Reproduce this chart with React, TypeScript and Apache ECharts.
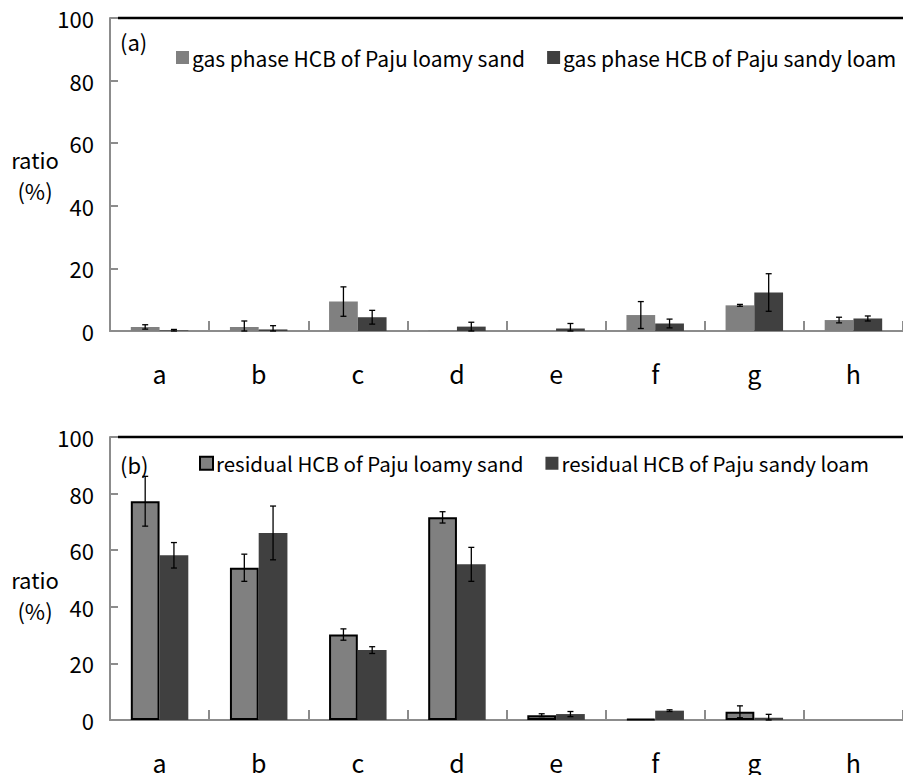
import React, { useEffect, useRef } from "react";
import * as echarts from "echarts";

const categories = ["a", "b", "c", "d", "e", "f", "g", "h"];
const yTicks = [0, 20, 40, 60, 80, 100];

const gasLoamyName = "gas phase HCB of Paju loamy sand";
const gasSandyName = "gas phase HCB of Paju sandy loam";
const resLoamyName = "residual HCB of Paju loamy sand";
const resSandyName = "residual HCB of Paju sandy loam";

const gasLoamy = [1.3, 1.3, 9.4, 0.2, 0, 5.1, 8.2, 3.5];
const gasLoamyErr = [0.7, 1.9, 4.7, 0, 0, 4.3, 0.3, 0.9];
const gasSandy = [0.2, 0.5, 4.4, 1.4, 0.8, 2.4, 12.3, 4.0];
const gasSandyErr = [0.3, 1.2, 2.2, 1.4, 1.6, 1.4, 6.0, 0.8];

const resLoamy = [77.3, 53.8, 30.2, 71.6, 1.7, 0.3, 2.9, 0];
const resLoamyErr = [8.8, 4.8, 2.0, 2.0, 0.5, 0, 2.1, 0];
const resSandy = [58.2, 66.1, 24.7, 55.0, 2.1, 3.3, 0.8, 0];
const resSandyErr = [4.5, 9.5, 1.2, 6.0, 0.9, 0.3, 1.2, 0];

const FONT = "'Noto Sans CJK KR', 'Noto Sans', sans-serif";
const LOAMY = "#808080";
const SANDY = "#404040";
const AXIS = "#8c8c8c";

function errSeries(grid: number, vals: number[], errs: number[], side: number) {
  return {
    type: "custom",
    xAxisIndex: grid,
    yAxisIndex: grid,
    z: 10,
    silent: true,
    data: vals.map((v, i) => [i, v, errs[i]]),
    renderItem: (params: any, api: any) => {
      const i = api.value(0);
      const v = api.value(1);
      const e = api.value(2);
      if (!e) return null;
      const band = api.size([1, 0])[0];
      const off = band * 0.145 * side;
      const top = api.coord([i, v + e]);
      const bot = api.coord([i, Math.max(v - e, 0)]);
      const x = top[0] + off;
      const cap = 3;
      const style = { stroke: "#000", lineWidth: 1.3 };
      return {
        type: "group",
        children: [
          { type: "line", shape: { x1: x, y1: top[1], x2: x, y2: bot[1] }, style },
          { type: "line", shape: { x1: x - cap, y1: top[1], x2: x + cap, y2: top[1] }, style },
          { type: "line", shape: { x1: x - cap, y1: bot[1], x2: x + cap, y2: bot[1] }, style },
        ],
      };
    },
  };
}

function xAxis(grid: number) {
  return {
    type: "category",
    gridIndex: grid,
    data: categories,
    axisLine: { show: true, lineStyle: { color: AXIS, width: 2 } },
    axisTick: { show: true, inside: true, length: 10, lineStyle: { color: AXIS, width: 2 } },
    axisLabel: { color: "#000", fontSize: 25, fontFamily: FONT, margin: 29 },
    splitLine: { show: false },
  };
}

function yAxis(grid: number) {
  return {
    type: "value",
    gridIndex: grid,
    min: yTicks[0],
    max: yTicks[yTicks.length - 1],
    interval: 20,
    axisLine: { show: true, lineStyle: { color: AXIS, width: 2 } },
    axisTick: { show: true, inside: true, length: 8, lineStyle: { color: AXIS, width: 2 } },
    axisLabel: { color: "#000", fontSize: 22, fontFamily: FONT, margin: 16 },
    splitLine: { show: false },
  };
}

function legend(names: string[], left: number, top: number, fontSize: number) {
  return {
    data: names,
    orient: "horizontal",
    left,
    top,
    width: 800,
    padding: 0,
    itemWidth: 13,
    itemHeight: 13,
    itemGap: 22,
    icon: "rect",
    textStyle: { fontSize, fontFamily: FONT, color: "#000", padding: [0, 0, 0, -2] },
    selectedMode: false,
  };
}

export default function App() {
  const ref = useRef<HTMLDivElement>(null);
  useEffect(() => {
    document.body.style.margin = "0";
    const chart = echarts.init(ref.current!, null, { renderer: "svg" });
    const barBase = { type: "bar", barWidth: "29%", barGap: "0%" };
    chart.setOption({
      animation: false,
      backgroundColor: "#fff",
      textStyle: { fontFamily: FONT },
      grid: [
        { left: 110, top: 18, right: -7, height: 313 },
        { left: 110, top: 437, right: -7, height: 283 },
      ],
      xAxis: [xAxis(0), xAxis(1)],
      yAxis: [yAxis(0), yAxis(1)],
      legend: [
        legend([gasLoamyName, gasSandyName], 176, 47, 21),
        legend([resLoamyName, resSandyName], 199, 453, 20.5),
      ],
      graphic: [
        { type: "line", shape: { x1: 118, y1: 18, x2: 903, y2: 18 }, style: { stroke: "#000", lineWidth: 2.5 } },
        { type: "line", shape: { x1: 118, y1: 437, x2: 903, y2: 437 }, style: { stroke: "#000", lineWidth: 2.5 } },
        { type: "text", x: 120, y: 30, style: { text: "(a)", fontSize: 22, fontFamily: FONT, fill: "#000" } },
        { type: "text", x: 120, y: 453, style: { text: "(b)", fontSize: 22, fontFamily: FONT, fill: "#000" } },
        { type: "text", x: 35, y: 159, style: { text: "ratio", fontSize: 22, fontFamily: FONT, fill: "#000", align: "center", verticalAlign: "middle" } },
        { type: "text", x: 35, y: 190, style: { text: "(%)", fontSize: 22, fontFamily: FONT, fill: "#000", align: "center", verticalAlign: "middle" } },
        { type: "text", x: 35, y: 579, style: { text: "ratio", fontSize: 22, fontFamily: FONT, fill: "#000", align: "center", verticalAlign: "middle" } },
        { type: "text", x: 35, y: 610, style: { text: "(%)", fontSize: 22, fontFamily: FONT, fill: "#000", align: "center", verticalAlign: "middle" } },
      ],
      series: [
        { ...barBase, name: gasLoamyName, xAxisIndex: 0, yAxisIndex: 0, data: gasLoamy, itemStyle: { color: LOAMY } },
        { ...barBase, name: gasSandyName, xAxisIndex: 0, yAxisIndex: 0, data: gasSandy, itemStyle: { color: SANDY } },
        {
          ...barBase,
          name: resLoamyName,
          xAxisIndex: 1,
          yAxisIndex: 1,
          data: resLoamy.map((v) => (v === 0 ? { value: v, itemStyle: { borderWidth: 0 } } : v)),
          itemStyle: { color: LOAMY, borderColor: "#000", borderWidth: 2 },
        },
        { ...barBase, name: resSandyName, xAxisIndex: 1, yAxisIndex: 1, data: resSandy, itemStyle: { color: SANDY } },
        errSeries(0, gasLoamy, gasLoamyErr, -1),
        errSeries(0, gasSandy, gasSandyErr, 1),
        errSeries(1, resLoamy, resLoamyErr, -1),
        errSeries(1, resSandy, resSandyErr, 1),
      ],
    });
    return () => chart.dispose();
  }, []);
  return <div ref={ref} style={{ width: 903, height: 775 }} />;
}
